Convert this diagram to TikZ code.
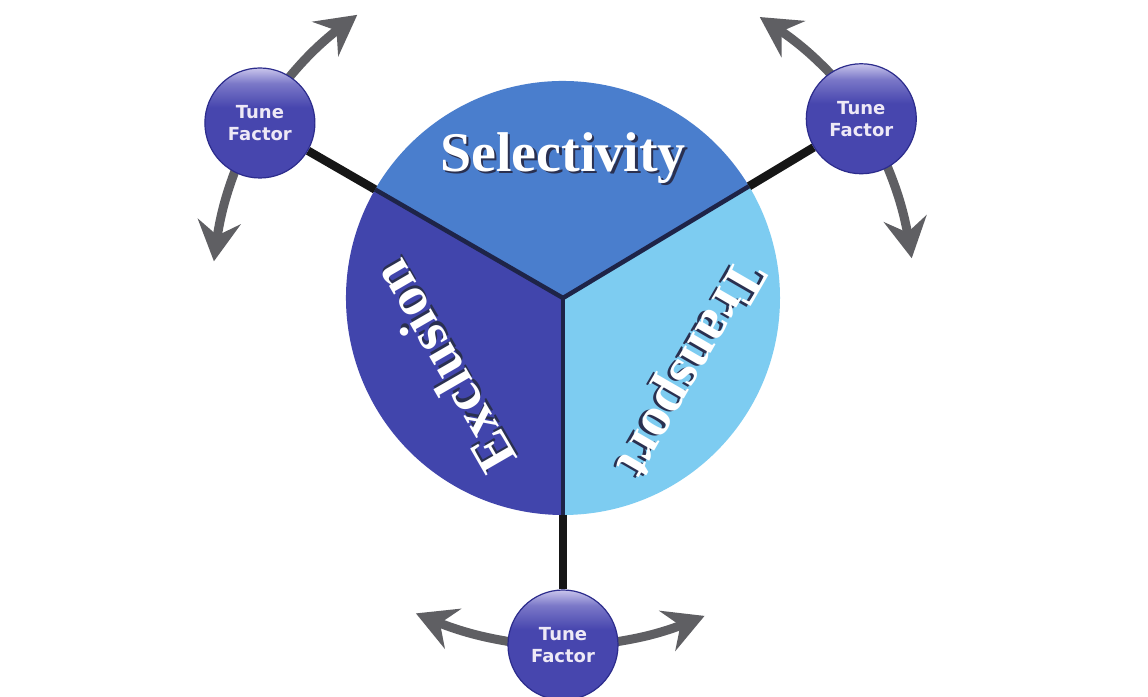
\documentclass[tikz,border=0pt]{standalone}
\usepackage{fontspec}
\setmainfont{Liberation Serif}
\newfontfamily\tffont{DejaVu Sans}
\usetikzlibrary{arrows.meta,calc,bending}
\pgfdeclarelayer{background}
\pgfsetlayers{background,main}
\definecolor{selcol}{HTML}{4A7ECD}
\definecolor{exccol}{HTML}{4145AC}
\definecolor{trncol}{HTML}{7DCCF1}
\definecolor{seamcol}{HTML}{1E2448}
\definecolor{armcol}{HTML}{161616}
\definecolor{arrcol}{HTML}{5F5F63}
\definecolor{tfbase}{HTML}{4746AE}
\definecolor{tfmid}{HTML}{7B78C8}
\definecolor{tfhi}{HTML}{C9C5EC}
\definecolor{tfrim}{HTML}{2C2C8C}
\definecolor{tftext}{HTML}{EEE9F6}
\definecolor{lblshadow}{HTML}{2A3050}
\newcommand{\shadowed}[1]{\makebox[0pt][l]{\hspace{2.5pt}\raisebox{-2.5pt}{\textcolor{lblshadow}{#1}}}#1}
\pgfdeclareverticalshading{tfball}{100bp}{color(0bp)=(tfbase); color(25bp)=(tfbase); color(57bp)=(tfbase); color(68bp)=(tfmid); color(75bp)=(tfhi); color(100bp)=(tfhi)}
\tikzset{
  tune/.style={circle, minimum size=110pt, inner sep=0pt, shading=tfball, draw=tfrim, line width=1.2pt, align=center, text=tftext, font=\tffont\bfseries\fontsize{18}{22}\selectfont},
  seam/.style={draw=seamcol, line width=4.5pt},
  arm/.style={draw=armcol, line width=8.5pt},
  turn/.style={draw=arrcol, line width=9pt, -{Stealth[length=40pt,width=43pt,inset=14pt]}},
  lbl/.style={font=\bfseries\fontsize{56}{60}\selectfont, text=white, inner sep=0pt},
}
\begin{document}
\begin{tikzpicture}[x=1pt,y=1pt]
\useasboundingbox (0,0) rectangle (1148,696);
\coordinate (C) at (563,398);
% tune factor nodes
\node[tune] (tl) at ($(C)+(150:350)$) {Tune\\Factor};
\node[tune] (tr) at ($(C)+(31:348)$) {Tune\\Factor};
\node[tune] (bt) at ($(C)+(270:347)$) {Tune\\Factor};
% rim points
\coordinate (rtl) at ($(C)+(150:217)$);
\coordinate (rtr) at ($(C)+(31:217)$);
\coordinate (rbt) at ($(C)+(270:217)$);
% arrow ends
\coordinate (tl1s) at ($(C)+(143:352)$);
\coordinate (tl1e) at ($(C)+(126:350)$);
\coordinate (tl2s) at ($(C)+(157:352)$);
\coordinate (tl2e) at ($(C)+(174:351)$);
\coordinate (tr1s) at ($(C)+(38:350)$);
\coordinate (tr1e) at ($(C)+(55:343)$);
\coordinate (tr2s) at ($(C)+(24:350)$);
\coordinate (tr2e) at ($(C)+(6.5:351)$);
\coordinate (bt1s) at ($(C)+(263:348)$);
\coordinate (bt1e) at ($(C)+(245:348)$);
\coordinate (bt2s) at ($(C)+(277:348)$);
\coordinate (bt2e) at ($(C)+(294:348)$);
\begin{pgfonlayer}{background}
\fill[white] (0,0) rectangle (1148,696);
% sectors
\fill[selcol] (C) -- (rtr) arc[start angle=31, end angle=150, radius=217pt] -- cycle;
\fill[exccol] (C) -- (rtl) arc[start angle=150, end angle=270, radius=217pt] -- cycle;
\fill[trncol] (C) -- (rbt) arc[start angle=270, end angle=391, radius=217pt] -- cycle;
% seams
\draw[seam] (C) -- (rtl);
\draw[seam] (C) -- (rtr);
\draw[seam] (C) -- (rbt);
% arms
\draw[arm] (rtl) -- (tl);
\draw[arm] (rtr) -- (tr);
\draw[arm] (rbt) -- (bt);
% turning arrows
\draw[turn] (tl1s) to[bend left=7.5] (tl1e);
\draw[turn] (tl2s) to[bend right=7.5] (tl2e);
\draw[turn] (tr1s) to[bend right=7.5] (tr1e);
\draw[turn] (tr2s) to[bend left=7.5] (tr2e);
\draw[turn] (bt1s) to[bend left=7.5] (bt1e);
\draw[turn] (bt2s) to[bend right=7.5] (bt2e);
\end{pgfonlayer}
% sector labels
\node[lbl] (sel) at ($(C)+(90:139)$) {\shadowed{Selectivity}};
\node[lbl, rotate=120] (exc) at ($(C)+(210:137)$) {\shadowed{Exclusion}};
\node[lbl, rotate=-120] (trn) at ($(C)+(331:141)$) {\shadowed{Transport}};
\end{tikzpicture}
\end{document}
